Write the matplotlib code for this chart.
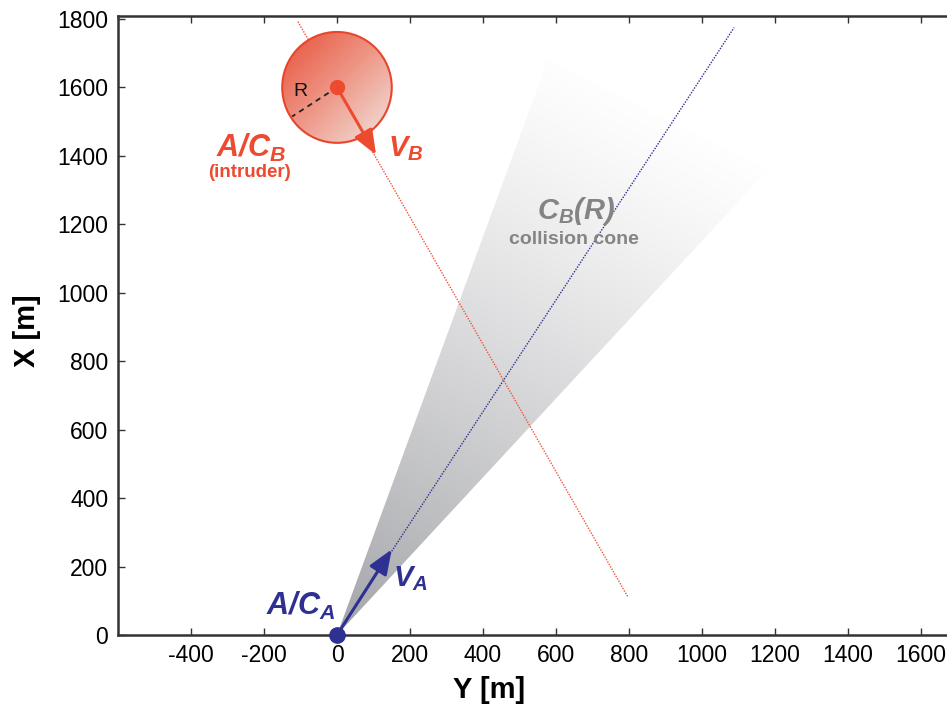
import numpy as np
import matplotlib
matplotlib.use("Agg")
import matplotlib.pyplot as plt
from matplotlib.patches import Ellipse, Polygon
from matplotlib.colors import LinearSegmentedColormap

plt.rcParams['font.family'] = ['Liberation Sans', 'DejaVu Sans']
plt.rcParams['axes.unicode_minus'] = False
plt.rcParams['mathtext.fontset'] = 'custom'
plt.rcParams['mathtext.rm'] = 'Liberation Sans:bold:italic'
plt.rcParams['mathtext.it'] = 'Liberation Sans:bold:italic'
plt.rcParams['mathtext.bf'] = 'Liberation Sans:bold:italic'

# geometry in metres, given as [Y, X] (Y is horizontal, X is vertical)
pos_a = [0, 0]
pos_b = [0, 1600]
vel_a = [150, 250]
vel_b = [107, -197]
track_a_y = [0, 1088]
track_a_x = [0, 1775]
track_b_y = [-107, 797]
track_b_x = [1792, 111]
cone_y = [0, 578, 1181]
cone_x = [0, 1681, 1360]
zone_ry, zone_rx = 150, 162  # protected zone radius as drawn on each axis
r_mark = [-123, 1515]

xticks = list(range(-400, 1601, 200))
yticks = list(range(0, 1801, 200))

RED = '#EE4A30'
BLUE = '#2E3192'
GRAY = '#848484'

fig = plt.figure(figsize=(9.47, 7.06), dpi=100)
ax = fig.add_axes([0.1246, 0.1006, 0.8865, 0.8774])

# collision cone, shaded dark at the origin and fading out
cone = Polygon(np.column_stack([cone_y, cone_x]), closed=True,
               facecolor='none', edgecolor='none')
ax.add_patch(cone)
axis_dir = np.array([np.mean(cone_y[1:]), np.mean(cone_x[1:])])
gy, gx = np.meshgrid(np.linspace(0, max(cone_y), 400),
                     np.linspace(0, max(cone_x), 500))
t = np.clip((gy * axis_dir[0] + gx * axis_dir[1]) / axis_dir.dot(axis_dir), 0, 1)
shade = 1 - (1 - t) ** 1.2
cone_cmap = LinearSegmentedColormap.from_list('cone', ['#A4A5A9', '#FEFEFE'])
im = ax.imshow(shade, cmap=cone_cmap, vmin=0, vmax=1, origin='lower', aspect='auto',
               extent=[0, max(cone_y), 0, max(cone_x)], zorder=1,
               interpolation='bilinear')
im.set_clip_path(cone)

# trajectories
ax.plot(track_a_y, track_a_x, ls=(0, (1, 1)), lw=1.0, color=BLUE, zorder=2)
ax.plot(track_b_y, track_b_x, ls=(0, (1, 1)), lw=1.0, color='#F0533A', zorder=2)

# intruder protected zone with gradient fill
zone = Ellipse(pos_b, 2 * zone_ry, 2 * zone_rx, facecolor='none',
               edgecolor='#E8452D', lw=1.5, zorder=4)
ax.add_patch(zone)
zy, zx = np.meshgrid(np.linspace(-1, 1, 200), np.linspace(-1, 1, 200))
grad = (zy - zx + 2) / 4
zone_cmap = LinearSegmentedColormap.from_list('zone', ['#E8503A', '#EE9888', '#F2E6E2'])
zim = ax.imshow(grad, cmap=zone_cmap, vmin=0, vmax=1, origin='lower', aspect='auto',
                extent=[pos_b[0] - zone_ry, pos_b[0] + zone_ry,
                        pos_b[1] - zone_rx, pos_b[1] + zone_rx],
                zorder=3, interpolation='bilinear')
zim.set_clip_path(zone)

ax.plot([pos_b[0], r_mark[0]], [pos_b[1], r_mark[1]], ls=(0, (3, 2.5)),
        lw=1.3, color='#222222', zorder=5)
ax.text(-99, 1587, 'R', fontsize=14, ha='center', va='center', color='#111111', zorder=6)

# velocity vectors
ax.annotate('', xy=(pos_a[0] + vel_a[0], pos_a[1] + vel_a[1]), xytext=pos_a,
            arrowprops=dict(arrowstyle='-|>,head_length=0.75,head_width=0.3',
                            color=BLUE, lw=2.2, shrinkA=0, shrinkB=0,
                            mutation_scale=20), zorder=6)
ax.annotate('', xy=(pos_b[0] + vel_b[0], pos_b[1] + vel_b[1]), xytext=pos_b,
            arrowprops=dict(arrowstyle='-|>,head_length=0.75,head_width=0.3',
                            color=RED, lw=2.2, shrinkA=0, shrinkB=0,
                            mutation_scale=20), zorder=6)

ax.plot(*pos_a, 'o', ms=11, color=BLUE, clip_on=False, zorder=7)
ax.plot(*pos_b, 'o', ms=10, color=RED, zorder=7)

# labels
ax.text(-236, 1423, r'$A/C_B$', fontsize=22, color=RED, ha='center', va='center')
ax.text(-241, 1350, '(intruder)', fontsize=13.5, fontweight='bold', color=RED,
        ha='center', va='center')
ax.text(140, 1420, r'$V_B$', fontsize=21, color=RED, ha='left', va='center')
ax.text(655, 1240, r'$C_B(R)$', fontsize=21, color=GRAY, ha='center', va='center')
ax.text(649, 1157, 'collision cone', fontsize=14, fontweight='bold', color=GRAY,
        ha='center', va='center')
ax.text(153, 165, r'$V_A$', fontsize=21, color=BLUE, ha='left', va='center')
ax.text(-99, 85, r'$A/C_A$', fontsize=22, color=BLUE, ha='center', va='center')

ax.set_xlim(-600, 1700)
ax.set_ylim(0, 1810)
ax.set_xticks(xticks)
ax.set_yticks(yticks)
ax.tick_params(direction='in', top=True, length=5, width=1, color='#333333',
               labelsize=16.5)
ax.tick_params(axis='x', pad=6.5)
ax.tick_params(axis='y', pad=7)
for side in ['left', 'bottom', 'top']:
    ax.spines[side].set_linewidth(1.8)
    ax.spines[side].set_color('#333333')
ax.spines['right'].set_visible(False)

ax.set_xlabel('Y [m]', fontsize=21, fontweight='bold', va='center', ha='center')
ax.set_ylabel('X [m]', fontsize=21, fontweight='bold', va='center', ha='center')
ax.xaxis.set_label_coords(0.442, -0.089)
ax.yaxis.set_label_coords(-0.108, 0.492)

fig.savefig('out.png', dpi=100)
